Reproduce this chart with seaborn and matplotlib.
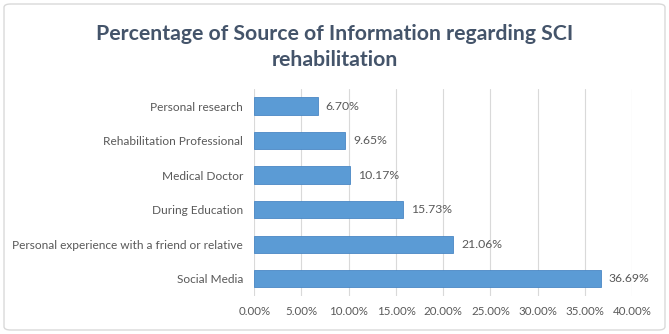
import numpy as np
import pandas as pd
import matplotlib.pyplot as plt
import seaborn as sns
from matplotlib.patches import FancyBboxPatch

# data
sources = ["Personal research", "Rehabilitation Professional", "Medical Doctor",
           "During Education", "Personal experience with a friend or relative",
           "Social Media"]
percent = [6.70, 9.65, 10.17, 15.73, 21.06, 36.69]
xticks = [0, 5, 10, 15, 20, 25, 30, 35, 40]

df = pd.DataFrame({"source": sources, "pct": percent})

sns.set_style("white")
plt.rcParams['font.family'] = ['Lato', 'DejaVu Sans']
txt = '#595959'

fig = plt.figure(figsize=(6.69, 3.34), dpi=100)
ax = fig.add_axes([0.380, 0.114, 0.565, 0.620])

sns.barplot(data=df, y="source", x="pct", ax=ax, color='#5B9BD5',
            width=0.5, edgecolor='#4A87C5', linewidth=0.6, saturation=1)

ax.set_xlim(0, 40)
ax.set_xticks(xticks)
ax.set_xticklabels([f"{t:.2f}%" for t in xticks], fontsize=8.3, color=txt)
ax.tick_params(axis='y', labelsize=8.6, labelcolor=txt, length=0, pad=8)
ax.tick_params(axis='x', length=0, pad=7)
ax.set_xlabel("")
ax.set_ylabel("")
ax.grid(axis='x', color='#D9D9D9', linewidth=0.8)
ax.set_axisbelow(True)
for s in ax.spines.values():
    s.set_visible(False)

for i, v in enumerate(percent):
    ax.text(v + 0.85, i, f"{v:.2f}%", va='center', ha='left', fontsize=8.8, color=txt)

fig.text(0.5, 0.859, "Percentage of Source of Information regarding SCI\nrehabilitation",
         ha='center', va='center', fontsize=15.3, fontweight='bold', color='#44546A',
         linespacing=1.4)

border = FancyBboxPatch((0.006, 0.012), 0.988, 0.976, boxstyle="round,pad=0,rounding_size=0.01",
                        transform=fig.transFigure, fill=False, edgecolor='#D9D9D9', linewidth=1)
fig.patches.append(border)

fig.savefig("out.png", dpi=100)
